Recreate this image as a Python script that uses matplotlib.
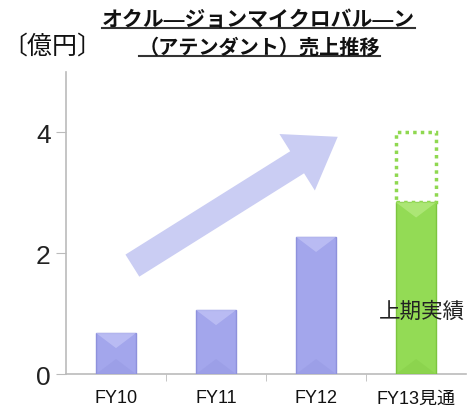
import matplotlib
matplotlib.use('Agg')
import matplotlib.pyplot as plt
from matplotlib.patches import FancyArrowPatch, Rectangle, Polygon
from matplotlib.lines import Line2D

plt.rcParams['font.family'] = ['Liberation Sans', 'Noto Sans CJK JP']

# data
years = ['FY10', 'FY11', 'FY12', 'FY13見通']
sales = [0.68, 1.06, 2.27, 2.84]   # 億円
fy13_forecast = 4.0
colors = ['#a3a6ec', '#a3a6ec', '#a3a6ec', '#93db55']
light = ['#c3c5f6', '#c3c5f6', '#c3c5f6', '#b7ec84']
dark = ['#8e91dc', '#8e91dc', '#8e91dc', '#7cc53f']

fig = plt.figure(figsize=(4.68, 4.14), dpi=100)
ax = fig.add_axes([0.141, 0.094, 0.855, 0.73])

x = list(range(len(years)))
w = 0.4
bars = ax.bar(x, sales, width=w, color=colors, edgecolor=dark, linewidth=1, zorder=3)

# subtle bevel on each bar (lighter top, darker bottom)
bev = 0.25
for xi, h, lc, dc in zip(x, sales, light, dark):
    b = min(bev, h / 2)
    ax.add_patch(Polygon([(xi - w / 2, h), (xi + w / 2, h), (xi, h - b)],
                         closed=True, color=lc, alpha=0.7, linewidth=0, zorder=3.5))
    ax.add_patch(Polygon([(xi - w / 2, 0), (xi + w / 2, 0), (xi, b)],
                         closed=True, color=dc, alpha=0.3, linewidth=0, zorder=3.5))

# dotted forecast box on top of FY13
ax.add_patch(Rectangle((3 - w / 2, sales[3]), w, fy13_forecast - sales[3],
                       fill=False, edgecolor='#8fd850', linestyle=(0, (1, 1.2)),
                       linewidth=2.5, zorder=3))
ax.text(3.49, 1.03, '上期実績', ha='right', va='center', fontsize=15.5,
        color='#222222', zorder=4)

# growth arrow
arr = FancyArrowPatch((0.16, 0.354), (0.685, 0.79), transform=ax.transAxes,
                      arrowstyle='simple,head_length=2.3,head_width=3.2,tail_width=1.25',
                      mutation_scale=15, color='#cacdf3', linewidth=0, zorder=2)
ax.add_patch(arr)

ax.set_xlim(-0.5, 3.5)
ax.set_ylim(0, 5)
ax.set_yticks([0, 2, 4])
ax.set_xticks(x)
ax.set_xticklabels(years, fontsize=13, color='#111111')
ax.tick_params(axis='y', labelsize=19, length=7, color='#bbbbbb', pad=4, labelcolor='#222222')
ax.tick_params(axis='x', length=0, pad=11)
# ticks between categories
ax.set_xticks([0.5, 1.5, 2.5], minor=True)
ax.tick_params(axis='x', which='minor', length=5, color='#bbbbbb', direction='out')
for s in ['top', 'right']:
    ax.spines[s].set_visible(False)
for s in ['left', 'bottom']:
    ax.spines[s].set_color('#bbbbbb')
    ax.spines[s].set_linewidth(1.2)

# title with underline
t1 = fig.text(0.553, 0.951, 'オクル―ジョンマイクロバル―ン', ha='center', va='center',
              fontsize=15, fontweight='bold', color='#111111')
t2 = fig.text(0.555, 0.884, '（アテンダント）売上推移', ha='center', va='center',
              fontsize=14.5, fontweight='bold', color='#111111')
fig.text(0.005, 0.888, '〔億円〕', ha='left', va='center', fontsize=18, color='#111111')

fig.canvas.draw()
r = fig.canvas.get_renderer()
for t in (t1, t2):
    bb = t.get_window_extent(r).transformed(fig.transFigure.inverted())
    fig.add_artist(Line2D([bb.x0, bb.x1], [bb.y0 + 0.002, bb.y0 + 0.002],
                          transform=fig.transFigure, color='#333333', linewidth=1.5))

fig.savefig('out.png', dpi=100)
